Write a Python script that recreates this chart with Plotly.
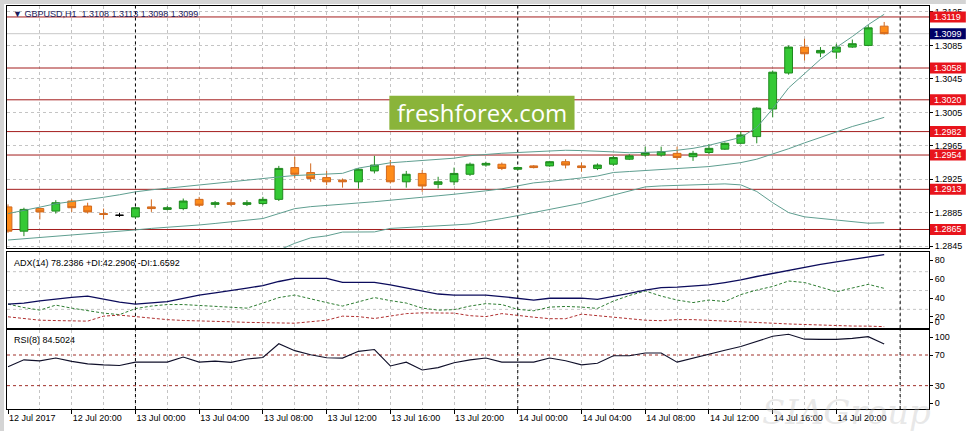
import plotly.graph_objects as go

# ---------------- data ----------------
tick_labels = ["12 Jul 2017", "12 Jul 20:00", "13 Jul 00:00", "13 Jul 04:00",
               "13 Jul 08:00", "13 Jul 12:00", "13 Jul 16:00", "13 Jul 20:00",
               "14 Jul 00:00", "14 Jul 04:00", "14 Jul 08:00", "14 Jul 12:00",
               "14 Jul 16:00", "14 Jul 20:00"]
tick_bars = [0, 4, 8, 12, 16, 20, 24, 28, 32, 36, 40, 44, 48, 52]
day_separators = [8, 32, 56]

opens = [1.2892, 1.2863, 1.2890, 1.2887, 1.2899, 1.2893, 1.2884, 1.2882, 1.2880, 1.2892,
         1.2889, 1.2890, 1.2901, 1.2895, 1.2897, 1.2895, 1.2896, 1.2901, 1.2939, 1.2933,
         1.2927, 1.2924, 1.2922, 1.2935, 1.2941, 1.2922, 1.2932, 1.2919, 1.2922, 1.2931,
         1.2942, 1.2943, 1.2937, 1.2941, 1.2941, 1.2946, 1.2941, 1.2938, 1.2943, 1.2949,
         1.2954, 1.2954, 1.2956, 1.2952, 1.2957, 1.2961, 1.2968, 1.2976, 1.3009, 1.3052,
         1.3083, 1.3076, 1.3077, 1.3083, 1.3085, 1.3108]
highs = [1.2895, 1.2891, 1.2891, 1.2900, 1.2901, 1.2897, 1.2890, 1.2885, 1.2892, 1.2901,
         1.2893, 1.2902, 1.2904, 1.2899, 1.2901, 1.2900, 1.2904, 1.2941, 1.2952, 1.2944,
         1.2935, 1.2926, 1.2938, 1.2953, 1.2948, 1.2935, 1.2936, 1.2928, 1.2939, 1.2945,
         1.2946, 1.2945, 1.2940, 1.2942, 1.2947, 1.2949, 1.2945, 1.2944, 1.2953, 1.2955,
         1.2964, 1.2964, 1.2964, 1.2959, 1.2967, 1.2969, 1.2982, 1.3011, 1.3055, 1.3085,
         1.3093, 1.3083, 1.3087, 1.3092, 1.3109, 1.3113]
lows = [1.2861, 1.2857, 1.2877, 1.2884, 1.2886, 1.2884, 1.2877, 1.2880, 1.2878, 1.2886,
        1.2888, 1.2888, 1.2892, 1.2891, 1.2893, 1.2893, 1.2894, 1.2899, 1.2926, 1.2922,
        1.2918, 1.2915, 1.2914, 1.2932, 1.2920, 1.2915, 1.2910, 1.2914, 1.2918, 1.2929,
        1.2940, 1.2936, 1.2936, 1.2938, 1.2940, 1.2938, 1.2934, 1.2936, 1.2941, 1.2948,
        1.2952, 1.2952, 1.2948, 1.2947, 1.2955, 1.2960, 1.2967, 1.2968, 1.2999, 1.3050,
        1.3067, 1.3071, 1.3069, 1.3082, 1.3084, 1.3098]
closes = [1.2863, 1.2889, 1.2886, 1.2897, 1.2891, 1.2886, 1.2883, 1.2882, 1.2891, 1.2890,
          1.2891, 1.2899, 1.2894, 1.2897, 1.2895, 1.2897, 1.2901, 1.2938, 1.2931, 1.2926,
          1.2922, 1.2922, 1.2937, 1.2942, 1.2922, 1.2931, 1.2917, 1.2922, 1.2932, 1.2943,
          1.2944, 1.2938, 1.2939, 1.2939, 1.2946, 1.2942, 1.2939, 1.2942, 1.2951, 1.2953,
          1.2957, 1.2958, 1.2951, 1.2956, 1.2962, 1.2968, 1.2978, 1.3010, 1.3053, 1.3083,
          1.3075, 1.3079, 1.3083, 1.3087, 1.3106, 1.3099]

bb_upper = [1.28840, 1.28876, 1.28917, 1.28958, 1.28982, 1.29006, 1.29035, 1.29065, 1.29100, 1.29124,
            1.29144, 1.29163, 1.29183, 1.29203, 1.29222, 1.29242, 1.29260, 1.29278, 1.29295, 1.29301,
            1.29313, 1.29321, 1.29384, 1.29419, 1.29447, 1.29461, 1.29473, 1.29484, 1.29502, 1.29532,
            1.29549, 1.29561, 1.29570, 1.29579, 1.29591, 1.29597, 1.29593, 1.29588, 1.29577, 1.29567,
            1.29573, 1.29577, 1.29597, 1.29620, 1.29656, 1.29703, 1.29751, 1.29869, 1.30093, 1.30342,
            1.30519, 1.30684, 1.30826, 1.30956, 1.31098, 1.31222]
bb_middle = [1.28524, 1.28539, 1.28553, 1.28568, 1.28580, 1.28592, 1.28610, 1.28627, 1.28645, 1.28663,
             1.28675, 1.28692, 1.28704, 1.28722, 1.28740, 1.28757, 1.28781, 1.28840, 1.28899, 1.28923,
             1.28935, 1.28950, 1.28967, 1.28982, 1.29002, 1.29017, 1.29033, 1.29053, 1.29071, 1.29088,
             1.29112, 1.29136, 1.29171, 1.29207, 1.29224, 1.29242, 1.29266, 1.29289, 1.29331, 1.29343,
             1.29354, 1.29363, 1.29372, 1.29384, 1.29402, 1.29425, 1.29449, 1.29490, 1.29549, 1.29615,
             1.29685, 1.29751, 1.29816, 1.29881, 1.29934, 1.29990]
bb_lower = [None, None, None, None, None, None, None, None, None, None,
            None, None, None, None, None, None, 1.28320, 1.28403, 1.28485, 1.28550,
            1.28574, 1.28619, 1.28619, 1.28621, 1.28663, 1.28671, 1.28680, 1.28692, 1.28704, 1.28716,
            1.28746, 1.28781, 1.28816, 1.28852, 1.28887, 1.28923, 1.28964, 1.29012, 1.29059, 1.29106,
            1.29159, 1.29171, 1.29175, 1.29179, 1.29187, 1.29195, 1.29183, 1.29104, 1.28970, 1.28852,
            1.28801, 1.28781, 1.28761, 1.28746, 1.28725, 1.28730]

adx = [25.6, 26.7, 29.1, 31.1, 32.7, 34.1, 30.9, 27.7, 25.6, 26.7,
       28.3, 31.7, 35.2, 37.5, 39.7, 42.5, 45.3, 49.6, 53.0, 53.0,
       53.0, 48.7, 48.7, 48.7, 45.9, 42.7, 39.5, 36.3, 35.2, 35.2,
       35.2, 33.6, 31.7, 29.9, 31.8, 32.0, 32.0, 30.6, 33.5, 37.0,
       40.5, 43.0, 43.7, 44.8, 45.9, 48.5, 51.2, 54.9, 58.1, 61.9,
       64.5, 67.7, 70.4, 73.1, 75.2, 78.2386]
plus_di = [25.6, 21.9, 19.2, 24.5, 21.3, 18.7, 16.0, 14.4, 20.8, 23.5,
           25.1, 25.1, 24.2, 23.5, 22.4, 21.3, 26.7, 32.5, 35.2, 30.9,
           27.2, 23.5, 27.7, 32.5, 29.3, 26.7, 21.3, 19.2, 19.7, 23.5,
           26.1, 25.1, 20.0, 18.5, 22.4, 23.1, 22.4, 21.0, 28.8, 34.7,
           39.5, 34.1, 29.9, 27.2, 29.9, 28.3, 35.7, 40.5, 44.3, 50.1,
           48.5, 43.7, 38.7, 42.7, 46.6, 42.2906]
minus_di = [12.1, 10.1, 8.5, 8.1, 7.8, 7.5, 12.8, 13.9, 12.3, 10.3,
            9.1, 8.2, 7.9, 7.5, 6.8, 6.2, 5.7, 5.3, 5.3, 6.9,
            8.5, 12.8, 12.3, 10.3, 12.8, 15.5, 16.3, 16.3, 16.0, 13.3,
            12.3, 15.5, 13.3, 11.7, 10.1, 10.1, 14.9, 13.3, 11.9, 10.1,
            8.5, 8.0, 9.1, 9.1, 8.5, 7.8, 6.8, 6.1, 5.3, 4.5,
            3.8, 3.3, 2.7, 2.3, 2.2, 1.6592]
rsi = [54.8, 63.7, 62.4, 66.0, 61.7, 58.4, 57.1, 56.4, 60.7, 60.7,
       60.7, 67.3, 60.7, 62.0, 60.4, 64.7, 66.8, 84.7, 75.7, 70.4,
       66.4, 66.0, 74.8, 77.1, 55.7, 60.7, 50.4, 53.5, 60.0, 63.7,
       66.0, 60.7, 60.7, 60.7, 66.0, 62.4, 57.1, 59.3, 69.1, 69.1,
       72.7, 72.7, 60.7, 66.0, 71.7, 76.1, 81.1, 88.1, 94.4, 97.1,
       90.7, 90.4, 90.4, 91.7, 94.0, 84.5024]

price_ticks = [1.2845, 1.2885, 1.2925, 1.2965, 1.3005, 1.3045, 1.3085, 1.3125]
level_lines = [1.3119, 1.3058, 1.3020, 1.2982, 1.2954, 1.2913, 1.2865]
bid_price = 1.3099
adx_levels = [20, 40, 60, 80]
rsi_levels = [70, 30]

# ---------------- geometry helpers ----------------
W, H = 967, 431
ML, MR, MT, MB = 7, 34, 5, 22
PW = W - ML - MR
PH = H - MT - MB


def px_x(px):
    return (px - ML) / PW


def px_y(py):
    return (H - MB - py) / PH


dom_main = [px_y(248), 1.0]
dom_adx = [px_y(328), px_y(252)]
dom_rsi = [0.0, px_y(330)]
YMIN, YMAX = 1.28424, 1.31321
ADX_RANGE = [0, 80.5]
RSI_RANGE = [-0.5, 102.4]
XR = [-0.0625, 57.8125]


def price_to_paper(p):
    return dom_main[0] + (p - YMIN) / (YMAX - YMIN) * (dom_main[1] - dom_main[0])


FONT = "Liberation Sans, Arial, sans-serif"
GRID = "#c4c4c4"
idx = list(range(len(opens)))

fig = go.Figure()

reg = [i for i in idx if opens[i] != closes[i]]
doj = [i for i in idx if opens[i] == closes[i]]

fig.add_trace(go.Candlestick(
    x=[idx[i] for i in reg], open=[opens[i] for i in reg], high=[highs[i] for i in reg],
    low=[lows[i] for i in reg], close=[closes[i] for i in reg],
    increasing=dict(line=dict(color="#1f8a1f", width=1), fillcolor="#35c935"),
    decreasing=dict(line=dict(color="#d2691e", width=1), fillcolor="#ff8c1a"),
    whiskerwidth=0, xaxis="x", yaxis="y", showlegend=False, hoverinfo="skip"))
fig.add_trace(go.Candlestick(
    x=[idx[i] for i in doj], open=[opens[i] for i in doj], high=[highs[i] for i in doj],
    low=[lows[i] for i in doj], close=[closes[i] for i in doj],
    increasing=dict(line=dict(color="#000000", width=1), fillcolor="#000000"),
    decreasing=dict(line=dict(color="#000000", width=1), fillcolor="#000000"),
    whiskerwidth=0, xaxis="x", yaxis="y", showlegend=False, hoverinfo="skip"))

BB = "#5f9e90"
for band in (bb_upper, bb_middle, bb_lower):
    fig.add_trace(go.Scatter(x=idx, y=band, mode="lines", line=dict(color=BB, width=1),
                             xaxis="x", yaxis="y", showlegend=False, hoverinfo="skip"))

fig.add_trace(go.Scatter(x=idx, y=plus_di, mode="lines",
                         line=dict(color="#2e7d32", width=1, dash="3px,2px"),
                         xaxis="x2", yaxis="y2", showlegend=False, hoverinfo="skip"))
fig.add_trace(go.Scatter(x=idx, y=minus_di, mode="lines",
                         line=dict(color="#b03030", width=1, dash="3px,2px"),
                         xaxis="x2", yaxis="y2", showlegend=False, hoverinfo="skip"))
fig.add_trace(go.Scatter(x=idx, y=adx, mode="lines", line=dict(color="#0c0c5c", width=1.3),
                         xaxis="x2", yaxis="y2", showlegend=False, hoverinfo="skip"))
fig.add_trace(go.Scatter(x=idx, y=rsi, mode="lines", line=dict(color="#10102a", width=1.1),
                         xaxis="x3", yaxis="y3", showlegend=False, hoverinfo="skip"))

xcommon = dict(range=XR, showline=True, mirror=True, linecolor="#000000", linewidth=1,
               zeroline=False, showgrid=True, gridcolor=GRID, griddash="3px,3px", gridwidth=1,
               tickvals=tick_bars, ticktext=tick_labels,
               minor=dict(dtick=2, tick0=0, showgrid=True, gridcolor=GRID, griddash="3px,3px",
                          ticks=""))
ycommon = dict(side="right", showline=True, mirror=True, linecolor="#000000", linewidth=1,
               zeroline=False, ticks="outside", ticklen=3, tickcolor="#000000",
               tickfont=dict(family=FONT, size=9, color="#000000"))

# ADX / RSI labels in MT4 hang just below their level; extremes are kept inside the window
adx_scale = (ADX_RANGE[1] - ADX_RANGE[0]) / 76.0
adx_tickvals = [lv - 7.5 * adx_scale for lv in adx_levels] + [6.4]
adx_ticktext = [str(lv) for lv in adx_levels] + ["0"]
rsi_tickvals = [93.3, 70, 30, 7.3]
rsi_ticktext = ["100", "70", "30", "0"]

fig.update_layout(
    width=W, height=H, margin=dict(l=ML, r=MR, t=MT, b=MB),
    paper_bgcolor="#ffffff", plot_bgcolor="#ffffff",
    font=dict(family=FONT, size=9, color="#000000"),
    showlegend=False,
    xaxis=dict(**xcommon, anchor="y", showticklabels=False, ticks="",
               rangeslider=dict(visible=False)),
    xaxis2=dict(**xcommon, anchor="y2", matches="x", showticklabels=False, ticks=""),
    xaxis3=dict(**xcommon, anchor="y3", matches="x", showticklabels=True, ticks="outside",
                ticklen=4, tickcolor="#000000", ticklabelposition="outside right",
                tickfont=dict(family=FONT, size=9, color="#000000")),
    yaxis=dict(**ycommon, domain=dom_main, anchor="x", range=[YMIN, YMAX],
               tickvals=price_ticks, ticktext=[f"{v:.4f}" for v in price_ticks],
               showgrid=True, gridcolor=GRID, griddash="3px,3px"),
    yaxis2=dict(**ycommon, domain=dom_adx, anchor="x2", range=ADX_RANGE,
                tickvals=adx_tickvals, ticktext=adx_ticktext, showgrid=False),
    yaxis3=dict(**ycommon, domain=dom_rsi, anchor="x3", range=RSI_RANGE,
                tickvals=rsi_tickvals, ticktext=rsi_ticktext, showgrid=False),
)

shapes = []
# ADX grid
for lv in [20, 40, 60]:
    shapes.append(dict(type="line", xref="x2", yref="y2", x0=XR[0], x1=XR[1], y0=lv, y1=lv,
                       line=dict(color=GRID, width=1, dash="3px,3px"), layer="between"))
# RSI levels
for lv in rsi_levels:
    shapes.append(dict(type="line", xref="x3", yref="y3", x0=XR[0], x1=XR[1], y0=lv, y1=lv,
                       line=dict(color="#a0302a", width=1, dash="3px,3px"), layer="between"))
# bid line
shapes.append(dict(type="line", xref="x", yref="y", x0=XR[0], x1=XR[1], y0=bid_price, y1=bid_price,
                   line=dict(color="#c8c8c8", width=1), layer="between"))
# horizontal levels
for lv in level_lines:
    shapes.append(dict(type="line", xref="x", yref="y", x0=XR[0], x1=XR[1], y0=lv, y1=lv,
                       line=dict(color="#a31c1c", width=1), layer="between"))
# day separators, one segment per window
for d in day_separators:
    for xa, ya, rng in (("x", "y", [YMIN, YMAX]), ("x2", "y2", ADX_RANGE), ("x3", "y3", RSI_RANGE)):
        shapes.append(dict(type="line", xref=xa, yref=ya, x0=d, x1=d, y0=rng[0], y1=rng[1],
                           line=dict(color="#000000", width=1, dash="3px,3px"), layer="between"))
# price label boxes
half = 5.5 / PH
for lv in level_lines:
    yp = price_to_paper(lv)
    shapes.append(dict(type="rect", xref="paper", yref="paper", x0=px_x(934), x1=px_x(970),
                       y0=yp - half, y1=yp + half, fillcolor="#e8141c", line=dict(width=0),
                       layer="above"))
yp = price_to_paper(bid_price)
shapes.append(dict(type="rect", xref="paper", yref="paper", x0=px_x(934), x1=px_x(970),
                   y0=yp - half, y1=yp + half, fillcolor="#000066", line=dict(width=0),
                   layer="above"))
# watermark box
shapes.append(dict(type="rect", xref="paper", yref="paper", x0=px_x(391), x1=px_x(577),
                   y0=px_y(129), y1=px_y(95), fillcolor="#8ab43a", line=dict(width=0),
                   layer="above"))
# window frame strips
shapes.append(dict(type="rect", xref="paper", yref="paper", x0=px_x(-2), x1=px_x(4),
                   y0=px_y(433), y1=px_y(-2), fillcolor="#d4d4d4", line=dict(width=0),
                   layer="above"))
shapes.append(dict(type="rect", xref="paper", yref="paper", x0=px_x(-2), x1=px_x(970),
                   y0=px_y(3), y1=px_y(-2), fillcolor="#d4d4d4", line=dict(width=0),
                   layer="above"))

annotations = []
for lv in level_lines:
    annotations.append(dict(xref="paper", yref="paper", x=px_x(936), y=price_to_paper(lv),
                            xanchor="left", yanchor="middle", showarrow=False, text=f"{lv:.4f}",
                            font=dict(family=FONT, size=9, color="#ffffff")))
annotations.append(dict(xref="paper", yref="paper", x=px_x(936), y=price_to_paper(bid_price),
                        xanchor="left", yanchor="middle", showarrow=False, text=f"{bid_price:.4f}",
                        font=dict(family=FONT, size=9, color="#ffffff")))
title_txt = (f"▼ GBPUSD,H1  {opens[-1]:.4f} {highs[-1]:.4f} {lows[-1]:.4f} {closes[-1]:.4f}")
annotations.append(dict(xref="paper", yref="paper", x=px_x(11), y=px_y(13), xanchor="left",
                        yanchor="middle", showarrow=False, text=title_txt,
                        font=dict(family=FONT, size=9, color="#1a1a5a")))
annotations.append(dict(xref="paper", yref="paper", x=px_x(12), y=px_y(263), xanchor="left",
                        yanchor="middle", showarrow=False,
                        text=f"ADX(14) {adx[-1]:.4f} +DI:{plus_di[-1]:.4f} -DI:{minus_di[-1]:.4f}",
                        font=dict(family=FONT, size=9, color="#000000")))
annotations.append(dict(xref="paper", yref="paper", x=px_x(12), y=px_y(340), xanchor="left",
                        yanchor="middle", showarrow=False, text=f"RSI(8) {rsi[-1]:.4f}",
                        font=dict(family=FONT, size=9, color="#000000")))
annotations.append(dict(xref="paper", yref="paper", x=px_x(484), y=px_y(112), xanchor="center",
                        yanchor="middle", showarrow=False, text="freshforex.com",
                        font=dict(family="Open Sans, sans-serif", size=24, color="#ffffff")))
annotations.append(dict(xref="paper", yref="paper", x=px_x(850), y=px_y(412), xanchor="center",
                        yanchor="middle", showarrow=False, text="<i>SIAGroup</i>",
                        font=dict(family="DejaVu Serif, serif", size=34,
                                  color="rgba(190,190,190,0.35)")))

fig.update_layout(shapes=shapes, annotations=annotations)
fig.write_html("out.html", config={"displayModeBar": False},
               post_script="document.body.style.margin='0';")
